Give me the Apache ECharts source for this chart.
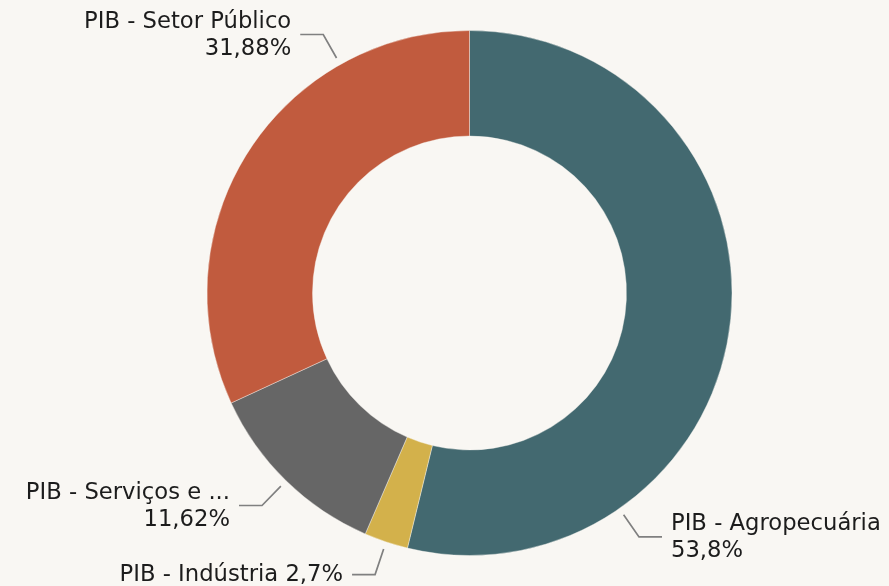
<!DOCTYPE html>
<html>
<head>
<meta charset="utf-8">
<script src="https://cdn.jsdelivr.net/npm/echarts@6/dist/echarts.min.js"></script>
<style>
  html, body { margin: 0; padding: 0; background: #f9f7f3; }
  #chart { width: 889px; height: 586px; }
</style>
</head>
<body>
<div id="chart"></div>
<script>
(function () {
  'use strict';

  // fatias do PIB, na ordem do gráfico (começa no topo, sentido horário)
  var names = ['PIB - Agropecuária', 'PIB - Indústria', 'PIB - Serviços e Comércio', 'PIB - Setor Público'];
  var values = [53.8, 2.7, 11.62, 31.88];
  var colors = ['#436970', '#d3b14b', '#666666', '#c15b3e'];

  var cx = 469.5, cy = 293;
  var rIn = 157, rOut = 262.5;
  var fontSize = 22.7;
  var font = fontSize + 'px "DejaVu Sans"';
  // ângulo do fio do rótulo quando não fica no meio da fatia
  var angleOverride = { 0: -55.2, 3: 119.5 };

  var total = values.reduce(function (a, b) { return a + b; }, 0);

  function pct(v) {
    return String(v).replace('.', ',') + '%';
  }

  function shortName(n) {
    if (echarts.format && echarts.format.truncateText) {
      return echarts.format.truncateText(n, 215, font, '...');
    }
    return n;
  }

  function midAngle(i) {
    var acc = 0;
    for (var k = 0; k < i; k++) acc += values[k];
    var f = (acc + values[i] / 2) / total;
    return 90 - 360 * f;
  }

  var chart = echarts.init(document.getElementById('chart'), null, { renderer: 'canvas' });

  var option = {
    backgroundColor: '#f9f7f3',
    animation: false,
    series: [{
      type: 'pie',
      center: [cx, cy],
      radius: [rIn, rOut],
      startAngle: 90,
      clockwise: true,
      avoidLabelOverlap: false,
      itemStyle: { borderColor: '#f9f7f3', borderWidth: 0.4 },
      label: {
        show: true,
        color: '#1c1c1c',
        fontFamily: 'DejaVu Sans',
        fontSize: fontSize,
        lineHeight: 27,
        formatter: function (p) {
          var n = shortName(p.name);
          var t = pct(p.value);
          return (n.length + t.length < 22) ? n + ' ' + t : n + '\n' + t;
        }
      },
      labelLine: {
        show: true,
        lineStyle: { color: '#808080', width: 1.7 }
      },
      labelLayout: function (params) {
        var i = params.dataIndex;
        var a = (angleOverride[i] !== undefined ? angleOverride[i] : midAngle(i)) * Math.PI / 180;
        var cos = Math.cos(a), sin = Math.sin(a);
        var side = cos >= 0 ? 1 : -1;
        var p0 = [cx + 270 * cos, cy - 270 * sin];
        var p1 = [cx + 297 * cos, cy - 297 * sin];
        var p2 = [p1[0] + side * 23, p1[1]];
        return {
          x: p2[0] + side * 9,
          y: p2[1] + 1,
          align: side > 0 ? 'left' : 'right',
          verticalAlign: 'middle',
          labelLinePoints: [p0, p1, p2]
        };
      },
      data: names.map(function (n, i) {
        return { name: n, value: values[i], itemStyle: { color: colors[i] } };
      })
    }]
  };

  chart.setOption(option);
})();
</script>
</body>
</html>
